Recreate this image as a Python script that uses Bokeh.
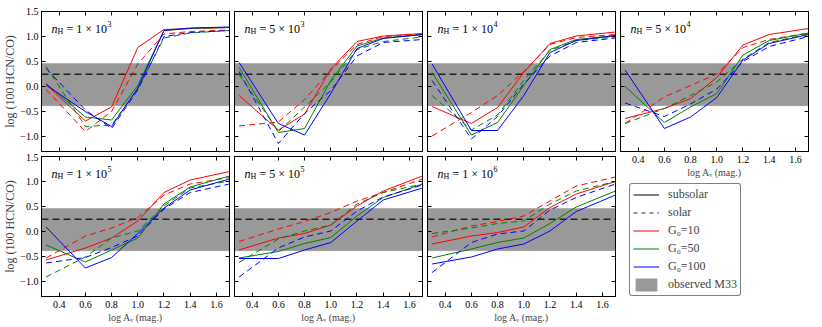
from bokeh.plotting import figure
from bokeh.models import (Range1d, FixedTicker, LinearAxis, BoxAnnotation, Span, Label,
                          Legend, LegendItem, CustomJSTickFormatter)
from bokeh.layouts import row, column
from bokeh.embed import file_html
from bokeh.resources import INLINE

# ---------------- data ----------------
log_av = [0.3, 0.6, 0.8, 1.0, 1.2, 1.4, 1.7]

x_ticks = [0.4, 0.6, 0.8, 1.0, 1.2, 1.4, 1.6]
y_ticks = [-1.0, -0.5, 0.0, 0.5, 1.0, 1.5]

panel_mantissa = ["1", "5", "1", "5", "1", "5", "1"]
panel_exponent = ["3", "3", "4", "4", "5", "5", "6"]

obs_low = -0.385
obs_high = 0.46
obs_mid = 0.245

# n_H = 1e3
n1e3_G10_sub = [0.04, -0.69, -0.41, 0.78, 1.14, 1.16, 1.18]
n1e3_G10_sol = [-0.06, -0.90, -0.50, 0.45, 1.05, 1.10, 1.13]
n1e3_G50_sub = [0.06, -0.61, -0.67, 0.02, 1.12, 1.16, 1.18]
n1e3_G50_sol = [0.40, -0.80, -0.77, -0.05, 0.97, 1.07, 1.12]
n1e3_G100_sub = [0.03, -0.50, -0.80, -0.03, 1.12, 1.17, 1.19]
n1e3_G100_sol = [0.36, -0.47, -0.84, -0.07, 1.00, 1.08, 1.12]
# n_H = 5e3
n5e3_G10_sub = [-0.18, -0.87, -0.55, 0.35, 0.90, 1.01, 1.06]
n5e3_G10_sol = [-0.79, -0.71, -0.26, 0.32, 0.84, 1.00, 1.04]
n5e3_G50_sub = [0.38, -0.92, -0.84, 0.12, 0.81, 0.97, 1.04]
n5e3_G50_sol = [0.24, -0.90, -0.41, 0.09, 0.74, 0.90, 0.99]
n5e3_G100_sub = [0.48, -0.74, -0.97, -0.14, 0.76, 0.96, 1.04]
n5e3_G100_sol = [0.30, -1.14, -0.54, -0.08, 0.61, 0.88, 0.94]
# n_H = 1e4
n1e4_G10_sub = [-0.40, -0.74, -0.42, 0.28, 0.86, 1.01, 1.09]
n1e4_G10_sol = [-0.99, -0.52, -0.18, 0.30, 0.84, 0.98, 1.04]
n1e4_G50_sub = [0.28, -0.97, -0.72, 0.02, 0.74, 0.94, 1.02]
n1e4_G50_sol = [-0.18, -0.87, -0.57, 0.12, 0.72, 0.92, 0.99]
n1e4_G100_sub = [0.45, -0.88, -0.88, -0.18, 0.68, 0.92, 1.02]
n1e4_G100_sol = [0.12, -1.05, -0.60, 0.05, 0.61, 0.88, 0.97]
# n_H = 5e4
n5e4_G10_sub = [-0.64, -0.44, -0.24, 0.18, 0.83, 1.04, 1.16]
n5e4_G10_sol = [-0.74, -0.21, 0.02, 0.25, 0.78, 0.94, 1.07]
n5e4_G50_sub = [0.00, -0.72, -0.41, -0.14, 0.63, 0.92, 1.07]
n5e4_G50_sol = [-0.74, -0.44, -0.18, 0.09, 0.55, 0.88, 1.05]
n5e4_G100_sub = [0.33, -0.84, -0.61, -0.22, 0.53, 0.86, 1.04]
n5e4_G100_sol = [-0.33, -0.60, -0.35, -0.05, 0.50, 0.80, 1.00]
# n_H = 1e5
n1e5_G10_sub = [-0.57, -0.33, -0.13, 0.21, 0.78, 1.03, 1.20]
n1e5_G10_sol = [-0.53, -0.09, 0.07, 0.28, 0.73, 0.95, 1.08]
n1e5_G50_sub = [-0.27, -0.61, -0.37, -0.13, 0.55, 0.89, 1.11]
n1e5_G50_sol = [-0.91, -0.51, -0.13, 0.01, 0.51, 0.87, 1.01]
n1e5_G100_sub = [0.09, -0.73, -0.52, -0.04, 0.47, 0.83, 1.05]
n1e5_G100_sol = [-0.63, -0.52, -0.32, -0.09, 0.45, 0.78, 0.95]
# n_H = 5e5
n5e5_G10_sub = [-0.37, -0.13, -0.04, 0.13, 0.51, 0.81, 1.11]
n5e5_G10_sol = [-0.20, 0.05, 0.20, 0.38, 0.61, 0.78, 1.05]
n5e5_G50_sub = [-0.53, -0.40, -0.24, -0.12, 0.31, 0.68, 0.95]
n5e5_G50_sol = [-0.62, -0.15, 0.01, 0.13, 0.55, 0.78, 0.95]
n5e5_G100_sub = [-0.54, -0.54, -0.37, -0.22, 0.21, 0.63, 0.87]
n5e5_G100_sol = [-0.91, -0.33, -0.11, 0.01, 0.41, 0.69, 0.93]
# n_H = 1e6
n1e6_G10_sub = [-0.25, -0.09, -0.02, 0.09, 0.48, 0.75, 1.00]
n1e6_G10_sol = [-0.11, 0.11, 0.20, 0.31, 0.61, 0.91, 1.09]
n1e6_G50_sub = [-0.53, -0.35, -0.22, -0.13, 0.16, 0.49, 0.81]
n1e6_G50_sol = [-0.04, 0.07, 0.16, 0.21, 0.55, 0.81, 1.00]
n1e6_G100_sub = [-0.65, -0.51, -0.35, -0.25, 0.01, 0.40, 0.73]
n1e6_G100_sol = [-0.82, -0.22, -0.05, 0.01, 0.43, 0.68, 0.95]

panels = [
    [n1e3_G10_sub, n1e3_G10_sol, n1e3_G50_sub, n1e3_G50_sol, n1e3_G100_sub, n1e3_G100_sol],
    [n5e3_G10_sub, n5e3_G10_sol, n5e3_G50_sub, n5e3_G50_sol, n5e3_G100_sub, n5e3_G100_sol],
    [n1e4_G10_sub, n1e4_G10_sol, n1e4_G50_sub, n1e4_G50_sol, n1e4_G100_sub, n1e4_G100_sol],
    [n5e4_G10_sub, n5e4_G10_sol, n5e4_G50_sub, n5e4_G50_sol, n5e4_G100_sub, n5e4_G100_sol],
    [n1e5_G10_sub, n1e5_G10_sol, n1e5_G50_sub, n1e5_G50_sol, n1e5_G100_sub, n1e5_G100_sol],
    [n5e5_G10_sub, n5e5_G10_sol, n5e5_G50_sub, n5e5_G50_sol, n5e5_G100_sub, n5e5_G100_sol],
    [n1e6_G10_sub, n1e6_G10_sol, n1e6_G50_sub, n1e6_G50_sol, n1e6_G100_sub, n1e6_G100_sol],
]

g0_labels = ["G\u2080=10", "G\u2080=50", "G\u2080=100"]
g0_colors = ["#ff0000", "#008000", "#0000ff"]

# ---------------- styling ----------------
FONT = "Liberation Serif"
FW, FH = 188, 140
DASH = "6 4"
fmt_code = "return tick.toFixed(1).replace('-', '\\u2212');"


def style_axis(ax, show_labels):
    ax.major_tick_in = 4
    ax.major_tick_out = 0
    ax.minor_tick_line_color = None
    ax.axis_line_color = "black"
    ax.major_tick_line_color = "black"
    ax.formatter = CustomJSTickFormatter(code=fmt_code)
    if show_labels:
        ax.major_label_text_font = FONT
        ax.major_label_text_font_size = "10px"
        ax.major_label_text_color = "black"
        ax.major_label_standoff = 4
    else:
        ax.major_label_text_font_size = "0px"
        ax.major_label_text_color = None
        ax.major_label_standoff = 0


def make_panel(i, show_x, show_y, top, right, bottom, left):
    p = figure(frame_width=FW, frame_height=FH,
               x_range=Range1d(0.265, 1.70), y_range=Range1d(-1.3, 1.5),
               output_backend="svg", toolbar_location=None,
               min_border_top=top, min_border_right=right,
               min_border_bottom=bottom, min_border_left=left)
    p.grid.visible = False
    p.outline_line_color = "black"
    p.background_fill_color = "white"

    for ax in p.xaxis:
        ax.ticker = FixedTicker(ticks=x_ticks)
        style_axis(ax, show_x)
        if show_x:
            ax.axis_label = "log A\u1d65 (mag.)"
            ax.axis_label_text_font = FONT
            ax.axis_label_text_font_size = "10px"
            ax.axis_label_text_font_style = "normal"
            ax.axis_label_standoff = 1
    for ax in p.yaxis:
        ax.ticker = FixedTicker(ticks=y_ticks)
        style_axis(ax, show_y)
        if show_y:
            ax.major_label_standoff = 3
            ax.axis_label = "log (100 HCN/CO)"
            ax.axis_label_text_font = FONT
            ax.axis_label_text_font_size = "12px"
            ax.axis_label_text_font_style = "normal"
            ax.axis_label_standoff = 0

    top_ax = LinearAxis(ticker=FixedTicker(ticks=x_ticks))
    style_axis(top_ax, False)
    p.add_layout(top_ax, "above")
    right_ax = LinearAxis(ticker=FixedTicker(ticks=y_ticks))
    style_axis(right_ax, False)
    p.add_layout(right_ax, "right")

    band = BoxAnnotation(bottom=obs_low, top=obs_high, fill_color="#999999", fill_alpha=1.0,
                         line_color="#666666", line_width=0.8, level="underlay")
    p.add_layout(band)
    span = Span(location=obs_mid, dimension="width", line_color="#222222",
                line_width=1.5, line_dash="7 4", level="underlay")
    p.add_layout(span)

    series = panels[i]
    for k in range(3):
        p.line(log_av, series[2 * k], line_color=g0_colors[k], line_width=1)
        p.line(log_av, series[2 * k + 1], line_color=g0_colors[k], line_width=1, line_dash=DASH)

    base = FH - 17
    p.add_layout(Label(x=10, y=base, x_units="screen", y_units="screen", text="n",
                       text_font=FONT, text_font_style="italic", text_font_size="12px",
                       text_baseline="alphabetic", text_color="black"))
    p.add_layout(Label(x=16, y=base - 3, x_units="screen", y_units="screen", text="H",
                       text_font=FONT, text_font_size="8px",
                       text_baseline="alphabetic", text_color="black"))
    p.add_layout(Label(x=25, y=base, x_units="screen", y_units="screen",
                       text="= " + panel_mantissa[i] + " \u00d7 10",
                       text_font=FONT, text_font_size="12px",
                       text_baseline="alphabetic", text_color="black"))
    p.add_layout(Label(x=66, y=base + 5, x_units="screen", y_units="screen",
                       text=panel_exponent[i],
                       text_font=FONT, text_font_size="8px",
                       text_baseline="alphabetic", text_color="black"))
    return p


TOP = 11
p1 = make_panel(0, False, True, TOP, 2, 2, 35)
p2 = make_panel(1, False, False, TOP, 2, 2, 3)
p3 = make_panel(2, False, False, TOP, 2, 2, 3)
p4 = make_panel(3, True, False, TOP, 2, 28, 3)
p5 = make_panel(4, True, True, 3, 2, 29, 35)
p6 = make_panel(5, True, False, 3, 2, 29, 3)
p7 = make_panel(6, True, False, 3, 2, 29, 3)

# ---------------- legend panel ----------------
NAN = float("nan")
lg = figure(width=193, height=146, output_backend="svg", toolbar_location=None,
            x_axis_location=None, y_axis_location=None, min_border=0,
            x_range=Range1d(0, 1), y_range=Range1d(0, 1))
lg.grid.visible = False
lg.outline_line_color = None

r_sub = lg.line(x=[NAN], y=[NAN], line_color="black", line_width=1)
r_sol = lg.line(x=[NAN], y=[NAN], line_color="#333333", line_width=1, line_dash="4 4")
r_g = [lg.line(x=[NAN], y=[NAN], line_color=c, line_width=1) for c in g0_colors]
r_obs = lg.quad(left=[NAN], right=[NAN], top=[NAN], bottom=[NAN], fill_color="#999999",
                line_color="#999999")

items = [LegendItem(label="subsolar", renderers=[r_sub]),
         LegendItem(label="solar", renderers=[r_sol])]
items += [LegendItem(label=lab, renderers=[r]) for lab, r in zip(g0_labels, r_g)]
items.append(LegendItem(label="observed M33", renderers=[r_obs]))

legend = Legend(items=items, location=(9, 30), label_text_font=FONT,
                label_text_font_size="12px", glyph_width=26, glyph_height=15,
                label_height=15, label_standoff=9, spacing=3, padding=3, margin=0,
                border_line_color="black", border_line_width=1,
                background_fill_color="white", background_fill_alpha=1.0)
if "border_radius" in Legend.properties():
    legend.border_radius = 3
lg.add_layout(legend)

layout = row(column(p1, p5), column(p2, p6), column(p3, p7), column(p4, lg))

with open("out.html", "w") as f:
    f.write(file_html(layout, INLINE))
